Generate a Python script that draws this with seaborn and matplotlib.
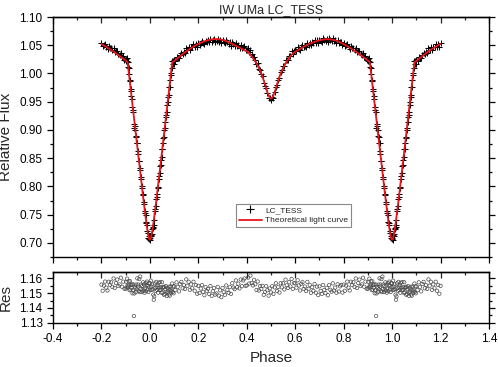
import numpy as np
import pandas as pd
import matplotlib
matplotlib.use("Agg")
import matplotlib.pyplot as plt
from matplotlib.lines import Line2D
from matplotlib.ticker import MultipleLocator, FormatStrFormatter
import seaborn as sns

# ---- one folded cycle (phase -0.2 .. 0.8) ----
# out-of-eclipse, before primary minimum
phase_a = [-0.200, -0.195, -0.190, -0.185, -0.180, -0.175, -0.170, -0.165, -0.160, -0.155,
           -0.150, -0.145, -0.140, -0.135, -0.130, -0.125, -0.120, -0.115, -0.110, -0.105]
model_a = [1.0520, 1.0508, 1.0496, 1.0483, 1.0470, 1.0457, 1.0444, 1.0430, 1.0416, 1.0402,
           1.0387, 1.0372, 1.0357, 1.0341, 1.0325, 1.0309, 1.0293, 1.0277, 1.0261, 1.0245]
res_a = [1.1558, 1.1516, 1.1551, 1.1578, 1.1537, 1.1518, 1.1577, 1.1555, 1.1573, 1.1542,
         1.1599, 1.1535, 1.1568, 1.1592, 1.1548, 1.1559, 1.1604, 1.1543, 1.1578, 1.1530]

# primary eclipse
phase_b = [-0.100, -0.098, -0.096, -0.094, -0.092, -0.090, -0.088, -0.086, -0.084, -0.082,
           -0.080, -0.078, -0.076, -0.074, -0.072, -0.070, -0.068, -0.066, -0.064, -0.062,
           -0.060, -0.058, -0.056, -0.054, -0.052, -0.050, -0.048, -0.046, -0.044, -0.042,
           -0.040, -0.038, -0.036, -0.034, -0.032, -0.030, -0.028, -0.026, -0.024, -0.022,
           -0.020, -0.018, -0.016, -0.014, -0.012, -0.010, -0.008, -0.006, -0.004, -0.002,
           0.000, 0.002, 0.004, 0.006, 0.008, 0.010, 0.012, 0.014, 0.016, 0.018,
           0.020, 0.022, 0.024, 0.026, 0.028, 0.030, 0.032, 0.034, 0.036, 0.038,
           0.040, 0.042, 0.044, 0.046, 0.048, 0.050, 0.052, 0.054, 0.056, 0.058,
           0.060, 0.062, 0.064, 0.066, 0.068, 0.070, 0.072, 0.074, 0.076, 0.078,
           0.080, 0.082, 0.084, 0.086, 0.088, 0.090, 0.092, 0.094, 0.096, 0.098]
model_b = [1.0228, 1.0222, 1.0215, 1.0205, 1.0194, 1.0119, 1.0044, 0.9969, 0.9894, 0.9819,
           0.9744, 0.9669, 0.9594, 0.9519, 0.9444, 0.9369, 0.9294, 0.9219, 0.9144, 0.9069,
           0.8994, 0.8919, 0.8844, 0.8769, 0.8695, 0.8620, 0.8545, 0.8471, 0.8397, 0.8323,
           0.8249, 0.8175, 0.8101, 0.8028, 0.7955, 0.7883, 0.7811, 0.7739, 0.7669, 0.7599,
           0.7530, 0.7462, 0.7396, 0.7333, 0.7272, 0.7215, 0.7164, 0.7119, 0.7085, 0.7063,
           0.7055, 0.7063, 0.7085, 0.7119, 0.7164, 0.7215, 0.7272, 0.7333, 0.7396, 0.7462,
           0.7530, 0.7599, 0.7669, 0.7739, 0.7811, 0.7883, 0.7955, 0.8028, 0.8101, 0.8175,
           0.8249, 0.8323, 0.8397, 0.8471, 0.8545, 0.8620, 0.8695, 0.8769, 0.8844, 0.8919,
           0.8994, 0.9069, 0.9144, 0.9219, 0.9294, 0.9369, 0.9444, 0.9519, 0.9594, 0.9669,
           0.9744, 0.9819, 0.9894, 0.9969, 1.0044, 1.0119, 1.0194, 1.0200, 1.0206, 1.0212]
res_b = [1.1530, 1.1576, 1.1539, 1.1598, 1.1551, 1.1539, 1.1580, 1.1554, 1.1520, 1.1581,
         1.1524, 1.1555, 1.1537, 1.1559, 1.1499, 1.1519, 1.1559, 1.1345, 1.1498, 1.1544,
         1.1533, 1.1507, 1.1558, 1.1526, 1.1600, 1.1544, 1.1558, 1.1514, 1.1595, 1.1507,
         1.1612, 1.1528, 1.1558, 1.1507, 1.1548, 1.1525, 1.1573, 1.1516, 1.1558, 1.1503,
         1.1529, 1.1568, 1.1513, 1.1554, 1.1578, 1.1524, 1.1547, 1.1508, 1.1569, 1.1539,
         1.1566, 1.1521, 1.1584, 1.1544, 1.1522, 1.1559, 1.1527, 1.1490, 1.1455, 1.1478,
         1.1566, 1.1535, 1.1516, 1.1576, 1.1544, 1.1521, 1.1554, 1.1503, 1.1570, 1.1537,
         1.1522, 1.1575, 1.1523, 1.1540, 1.1503, 1.1574, 1.1505, 1.1537, 1.1543, 1.1489,
         1.1540, 1.1494, 1.1526, 1.1548, 1.1504, 1.1481, 1.1537, 1.1511, 1.1525, 1.1490,
         1.1544, 1.1483, 1.1518, 1.1545, 1.1504, 1.1517, 1.1565, 1.1507, 1.1544, 1.1499]

# maxima and secondary eclipse
phase_c = [0.100, 0.105, 0.110, 0.115, 0.120, 0.125, 0.130, 0.135, 0.140, 0.145,
           0.150, 0.155, 0.160, 0.165, 0.170, 0.175, 0.180, 0.185, 0.190, 0.195,
           0.200, 0.205, 0.210, 0.215, 0.220, 0.225, 0.230, 0.235, 0.240, 0.245,
           0.250, 0.255, 0.260, 0.265, 0.270, 0.275, 0.280, 0.285, 0.290, 0.295,
           0.300, 0.305, 0.310, 0.315, 0.320, 0.325, 0.330, 0.335, 0.340, 0.345,
           0.350, 0.355, 0.360, 0.365, 0.370, 0.375, 0.380, 0.385, 0.390, 0.395,
           0.400, 0.405, 0.410, 0.415, 0.420, 0.425, 0.430, 0.435, 0.440, 0.445,
           0.450, 0.455, 0.460, 0.465, 0.470, 0.475, 0.480, 0.485, 0.490, 0.495,
           0.500, 0.505, 0.510, 0.515, 0.520, 0.525, 0.530, 0.535, 0.540, 0.545,
           0.550, 0.555, 0.560, 0.565, 0.570, 0.575, 0.580, 0.585, 0.590, 0.595,
           0.600, 0.605, 0.610, 0.615, 0.620, 0.625, 0.630, 0.635, 0.640, 0.645,
           0.650, 0.655, 0.660, 0.665, 0.670, 0.675, 0.680, 0.685, 0.690, 0.695,
           0.700, 0.705, 0.710, 0.715, 0.720, 0.725, 0.730, 0.735, 0.740, 0.745,
           0.750, 0.755, 0.760, 0.765, 0.770, 0.775, 0.780, 0.785, 0.790, 0.795]
model_c = [1.0220, 1.0238, 1.0256, 1.0274, 1.0291, 1.0308, 1.0325, 1.0342, 1.0358, 1.0374,
           1.0390, 1.0405, 1.0420, 1.0434, 1.0448, 1.0462, 1.0475, 1.0488, 1.0500, 1.0512,
           1.0523, 1.0534, 1.0544, 1.0553, 1.0562, 1.0570, 1.0577, 1.0584, 1.0590, 1.0595,
           1.0600, 1.0603, 1.0606, 1.0608, 1.0609, 1.0609, 1.0608, 1.0606, 1.0603, 1.0599,
           1.0594, 1.0588, 1.0581, 1.0573, 1.0564, 1.0555, 1.0545, 1.0535, 1.0524, 1.0513,
           1.0502, 1.0491, 1.0480, 1.0469, 1.0458, 1.0447, 1.0436, 1.0425, 1.0414, 1.0403,
           1.0392, 1.0380, 1.0355, 1.0330, 1.0303, 1.0275, 1.0245, 1.0213, 1.0178, 1.0140,
           1.0098, 1.0052, 1.0000, 0.9942, 0.9878, 0.9808, 0.9735, 0.9668, 0.9612, 0.9572,
           0.9555, 0.9572, 0.9612, 0.9668, 0.9735, 0.9808, 0.9878, 0.9942, 1.0000, 1.0052,
           1.0098, 1.0140, 1.0178, 1.0213, 1.0245, 1.0275, 1.0303, 1.0330, 1.0352, 1.0372,
           1.0385, 1.0398, 1.0411, 1.0424, 1.0437, 1.0449, 1.0461, 1.0473, 1.0484, 1.0495,
           1.0506, 1.0516, 1.0526, 1.0535, 1.0544, 1.0553, 1.0561, 1.0568, 1.0575, 1.0581,
           1.0587, 1.0592, 1.0597, 1.0601, 1.0604, 1.0606, 1.0607, 1.0607, 1.0606, 1.0604,
           1.0601, 1.0597, 1.0592, 1.0586, 1.0579, 1.0571, 1.0562, 1.0552, 1.0542, 1.0531]
res_c = [1.1546, 1.1521, 1.1573, 1.1542, 1.1512, 1.1561, 1.1576, 1.1533, 1.1555, 1.1528,
         1.1593, 1.1550, 1.1577, 1.1522, 1.1559, 1.1533, 1.1577, 1.1516, 1.1555, 1.1496,
         1.1549, 1.1501, 1.1531, 1.1554, 1.1509, 1.1486, 1.1541, 1.1515, 1.1529, 1.1494,
         1.1548, 1.1482, 1.1513, 1.1535, 1.1490, 1.1498, 1.1542, 1.1483, 1.1519, 1.1473,
         1.1535, 1.1506, 1.1489, 1.1552, 1.1522, 1.1503, 1.1541, 1.1495, 1.1567, 1.1538,
         1.1527, 1.1586, 1.1540, 1.1564, 1.1532, 1.1592, 1.1547, 1.1586, 1.1599, 1.1550,
         1.1552, 1.1605, 1.1565, 1.1619, 1.1568, 1.1552, 1.1590, 1.1560, 1.1521, 1.1579,
         1.1518, 1.1548, 1.1528, 1.1550, 1.1489, 1.1508, 1.1547, 1.1520, 1.1483, 1.1532,
         1.1505, 1.1547, 1.1495, 1.1539, 1.1567, 1.1515, 1.1542, 1.1504, 1.1567, 1.1539,
         1.1567, 1.1525, 1.1591, 1.1553, 1.1535, 1.1574, 1.1545, 1.1596, 1.1529, 1.1568,
         1.1566, 1.1537, 1.1587, 1.1552, 1.1518, 1.1563, 1.1574, 1.1528, 1.1545, 1.1514,
         1.1576, 1.1529, 1.1556, 1.1502, 1.1540, 1.1516, 1.1562, 1.1503, 1.1544, 1.1487,
         1.1546, 1.1515, 1.1495, 1.1555, 1.1522, 1.1500, 1.1536, 1.1486, 1.1555, 1.1523,
         1.1510, 1.1566, 1.1517, 1.1537, 1.1503, 1.1560, 1.1511, 1.1546, 1.1556, 1.1504]

RES_ZERO = 1.1535          # level of the residual panel that corresponds to O-C = 0
TITLE = "IW UMa LC_TESS"
LEGEND_LABELS = ["LC_TESS", "Theoretical light curve"]

# ---- assemble: one cycle, then phases <= 0.2 repeated one cycle later ----
cyc = pd.DataFrame({
    "phase": phase_a + phase_b + phase_c,
    "model": model_a + model_b + model_c,
    "res": res_a + res_b + res_c,
})
rep = cyc[cyc["phase"] <= 0.2].copy()
rep["phase"] = rep["phase"] + 1.0
df = pd.concat([cyc, rep], ignore_index=True).sort_values("phase").reset_index(drop=True)
df["flux"] = df["model"] + (df["res"] - RES_ZERO)

# ---- style ----
sns.set_style("ticks")
plt.rcParams["font.family"] = ["Liberation Sans", "DejaVu Sans"]
plt.rcParams["axes.unicode_minus"] = False
plt.rcParams["axes.linewidth"] = 1.0

fig = plt.figure(figsize=(4.98, 3.67), dpi=100)
L, W = 53 / 498, 436 / 498
ax1 = fig.add_axes([L, 1 - 257 / 367, W, 240 / 367])
ax2 = fig.add_axes([L, 1 - 323 / 367, W, 51 / 367])

# main panel
sns.scatterplot(data=df, x="phase", y="flux", marker="+", color="black", s=20,
                linewidth=0.75, ax=ax1, legend=False, zorder=2)
sns.lineplot(data=df, x="phase", y="model", color="#e8161c", linewidth=1.3,
             estimator=None, sort=True, ax=ax1, zorder=3)

# residual panel
sns.scatterplot(data=df, x="phase", y="res", marker="o", facecolor="none",
                edgecolor="#4d4d4d", s=6, linewidth=0.5, ax=ax2, legend=False)

for ax in (ax1, ax2):
    ax.set_xlim(-0.4, 1.4)
    ax.xaxis.set_major_locator(MultipleLocator(0.2))
    ax.xaxis.set_minor_locator(MultipleLocator(0.1))
    ax.tick_params(axis="both", which="both", direction="out", right=True,
                   labelsize=8.5, width=0.9, colors="black")
    ax.tick_params(which="major", length=4)
    ax.tick_params(which="minor", length=2.5)
    for s in ax.spines.values():
        s.set_visible(True)
        s.set_color("black")
    top = ax.secondary_xaxis("top")
    top.xaxis.set_major_locator(MultipleLocator(0.2))
    top.xaxis.set_minor_locator(MultipleLocator(0.1))
    top.tick_params(which="both", direction="in", labeltop=False, width=0.9)
    top.tick_params(which="major", length=4)
    top.tick_params(which="minor", length=2.5)

ax1.set_ylim(0.675, 1.10)
ax1.yaxis.set_major_locator(MultipleLocator(0.05))
ax1.yaxis.set_minor_locator(MultipleLocator(0.025))
ax1.yaxis.set_major_formatter(FormatStrFormatter("%.2f"))
ax1.tick_params(axis="x", labelbottom=False)
ax1.set_xlabel("")
ax1.set_ylabel("Relative Flux", fontsize=11)
ax1.yaxis.set_label_coords(-0.092, 0.5)
ax1.set_title(TITLE, fontsize=9, pad=3)

ax2.set_ylim(1.1298, 1.1643)
ax2.yaxis.set_major_locator(MultipleLocator(0.01))
ax2.yaxis.set_minor_locator(MultipleLocator(0.005))
ax2.yaxis.set_major_formatter(FormatStrFormatter("%.2f"))
ax2.xaxis.set_major_formatter(FormatStrFormatter("%.1f"))
ax2.set_ylabel("Res", fontsize=11)
ax2.yaxis.set_label_coords(-0.092, 0.5)
ax2.set_xlabel("Phase", fontsize=11)
ax2.xaxis.set_label_coords(0.5, -0.54)

handles = [Line2D([], [], marker="+", color="black", ls="none", markersize=6, mew=0.8),
           Line2D([], [], color="#e8161c", lw=1.3)]
leg = ax1.legend(handles, LEGEND_LABELS, loc="lower left", bbox_to_anchor=(0.42, 0.125),
                 fontsize=6, frameon=True, fancybox=False, edgecolor="#888888",
                 framealpha=1, borderpad=0.3, handlelength=2.8, handletextpad=0.4,
                 labelspacing=0.3, borderaxespad=0)
leg.get_frame().set_linewidth(0.8)

fig.savefig("out.png", dpi=100)
